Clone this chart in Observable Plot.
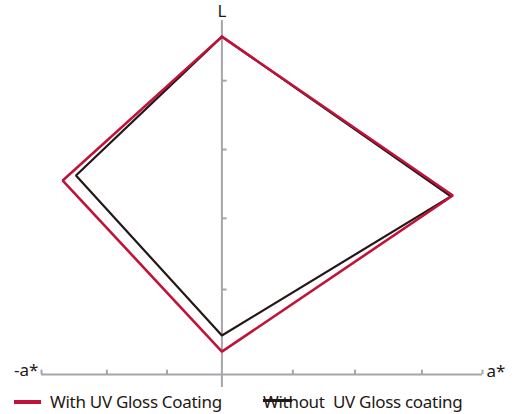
<!DOCTYPE html>
<html>
<head>
<meta charset="utf-8">
<script src="https://cdn.jsdelivr.net/npm/d3@7"></script>
<script src="https://cdn.jsdelivr.net/npm/@observablehq/plot@0.6"></script>
<style>
  html, body { margin: 0; padding: 0; background: #fff; }
  #wrap { position: relative; width: 514px; height: 414px; font-family: "Noto Sans", sans-serif; color: #231815; }
  #legend { position: absolute; left: 0; top: 392px; width: 514px; height: 22px; }
  .sw { position: absolute; }
  .lt { position: absolute; top: 0; font-size: 17px; line-height: 20px; white-space: pre; letter-spacing: -0.3px; }
</style>
</head>
<body>
<div id="wrap">
  <div id="chart"></div>
  <div id="legend"></div>
</div>
<script>
// Series (a*, L), in arbitrary chart units
const vertexOrder = ["top", "right", "bottom", "left", "top"];
const withCoatingA = [0, 57.6, 0, -39.7, 0];
const withCoatingL = [85.9, 45.5, 5.8, 49.3, 85.9];
const withoutCoatingA = [0, 57.1, 0, -36.4, 0];
const withoutCoatingL = [85.9, 45.3, 9.9, 50.6, 85.9];

// Axis ticks
const aTicks = [-45, -28.7, -13.7, 17.7, 33.2, 49.9, 65];
const lTicks = [21.6, 39.7, 57.2, 74.7];
const aDomain = [-45, 65];
const lDomain = [0, 90];

const seriesNames = ["With UV Gloss Coating", "Without  UV Gloss coating"];
const seriesColors = ["#c1133a", "#231815"];

const toRows = (as, ls) => as.map((a, i) => ({vertex: vertexOrder[i], a, L: ls[i]}));
const withRows = toRows(withCoatingA, withCoatingL);
const withoutRows = toRows(withoutCoatingA, withoutCoatingL);

const axisGray = "#a5a5ab";

const chart = Plot.plot({
  width: 514,
  height: 392,
  marginTop: 0, marginRight: 0, marginBottom: 0, marginLeft: 0,
  x: {domain: aDomain, range: [41, 482]},
  y: {domain: lDomain, range: [374, 20]},
  axis: null,
  style: {fontFamily: "Noto Sans, sans-serif", fontSize: "17px", color: "#231815", background: "white"},
  marks: [
    // horizontal a* axis
    Plot.ruleY([0], {x1: aDomain[0], x2: aDomain[1], stroke: axisGray, strokeWidth: 2}),
    Plot.ruleX(aTicks, {x: d => d, y1: 0, y2: 1.1, stroke: axisGray, strokeWidth: 2}),
    // vertical L axis
    Plot.ruleX([0], {y1: -3.3, y2: lDomain[1], stroke: axisGray, strokeWidth: 2}),
    Plot.ruleY(lTicks, {y: d => d, x1: 0, x2: 1.3, stroke: axisGray, strokeWidth: 2}),
    // axis labels
    Plot.text(["L"], {x: 0, y: lDomain[1], dy: -9, fill: "#231815", fontSize: 17}),
    Plot.text(["-a*"], {x: aDomain[0], y: 0, dx: -3, dy: -4, textAnchor: "end", fill: "#231815", fontSize: 17}),
    Plot.text(["a*"], {x: aDomain[1], y: 0, dx: 4, dy: -3, textAnchor: "start", fill: "#231815", fontSize: 17}),
    // series
    Plot.line(withoutRows, {x: "a", y: "L", stroke: seriesColors[1], strokeWidth: 2.2, strokeLinejoin: "miter", curve: "linear"}),
    Plot.line(withRows, {x: "a", y: "L", stroke: seriesColors[0], strokeWidth: 2.6, strokeLinejoin: "miter", curve: "linear"})
  ]
});
document.getElementById("chart").appendChild(chart);

// Legend below the SVG
const legend = document.getElementById("legend");
function addSwatch(left, top, w, h, color) {
  const s = document.createElement("div");
  s.className = "sw";
  Object.assign(s.style, {left: left + "px", top: top + "px", width: w + "px", height: h + "px", background: color});
  legend.appendChild(s);
}
function addLabel(left, text) {
  const t = document.createElement("div");
  t.className = "lt";
  t.style.left = left + "px";
  t.textContent = text;
  legend.appendChild(t);
}
addSwatch(14, 8, 27, 4, seriesColors[0]);
addLabel(50, seriesNames[0]);
addLabel(263, seriesNames[1]);
addSwatch(263, 7, 29, 3, seriesColors[1]);
</script>
</body>
</html>
